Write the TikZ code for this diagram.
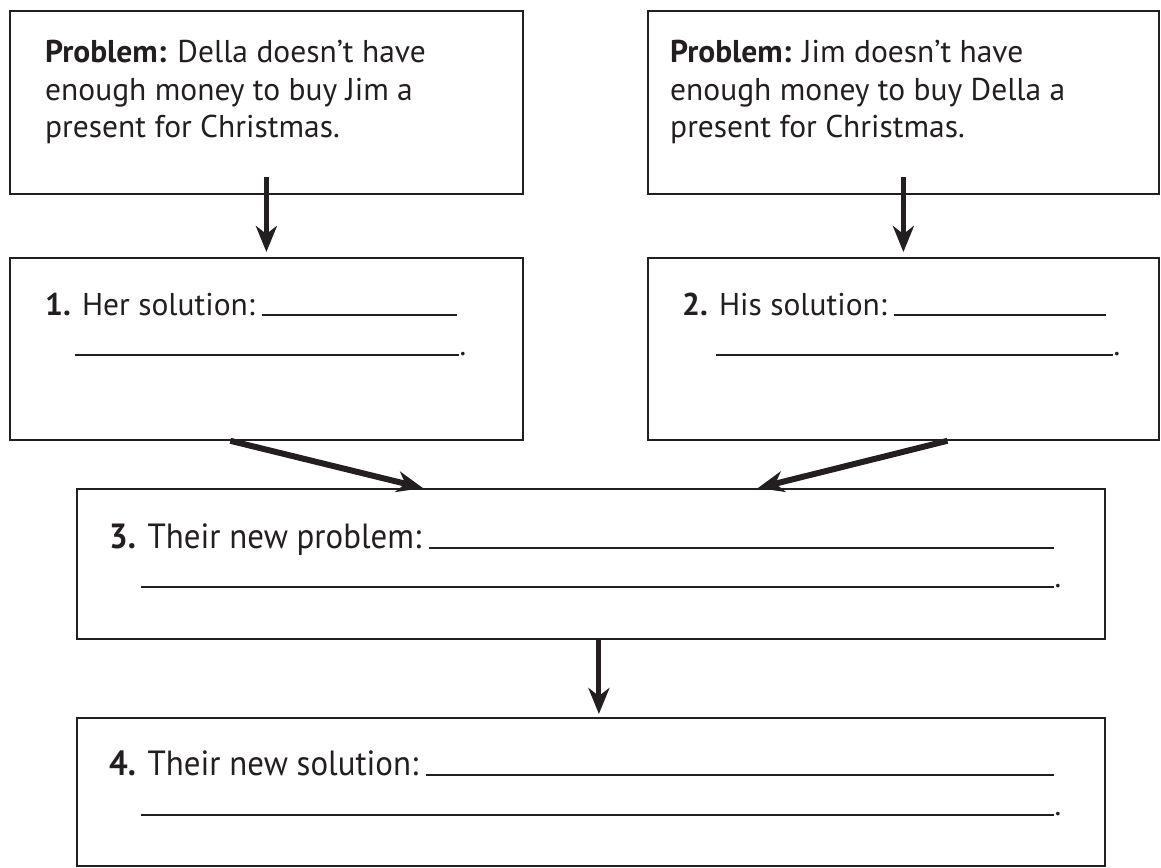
\documentclass[tikz,border=0pt]{standalone}
\usepackage{fontspec}
\setmainfont{PT Sans}
\newfontfamily\narrowfont[FakeStretch=0.94]{PT Sans}
\usetikzlibrary{arrows.meta}

\definecolor{ink}{HTML}{231F20}

\begin{document}
\begin{tikzpicture}[x=1pt,y=-1pt,
    box/.style={draw=ink,line width=1.8pt,anchor=north west,inner sep=0pt},
    txt/.style={anchor=base west,inner sep=0pt,text=ink,
      font=\fontsize{31.5}{37}\selectfont},
    ntxt/.style={txt,font=\fontsize{35}{40}\narrowfont},
    blank/.style={draw=ink,line width=1.2pt},
    dot/.style={anchor=base west,inner sep=0pt,text=ink,
      font=\fontsize{31}{37}\selectfont},
    arr/.style={draw=ink,line width=5pt,
      -{Stealth[length=26pt,width=21pt,inset=8pt]}},
    darr/.style={arr,line width=6pt}]

    \useasboundingbox (0,0) rectangle (1161,867);

    % the boxes

    \node[box,minimum width=513pt,minimum height=183pt] (dellaprob) at (9,10) {};
    \node[box,minimum width=511pt,minimum height=183pt] (jimprob) at (647,10) {};
    \node[box,minimum width=513pt,minimum height=182pt] (hersol) at (9,257) {};
    \node[box,minimum width=511pt,minimum height=182pt] (hissol) at (647,257) {};
    \node[box,minimum width=1028pt,minimum height=150pt] (newprob) at (76,488) {};
    \node[box,minimum width=1028pt,minimum height=148pt] (newsol) at (76,717) {};

    % the texts

    \node[txt] (dellaa) at (45,63) {\textbf{Problem:} Della doesn’t have};
    \node[txt] (dellab) at (45,100) {enough money to buy Jim a};
    \node[txt] (dellac) at (45,137) {present for Christmas.};

    \node[txt] (jima) at (670,63) {\textbf{Problem:} Jim doesn’t have};
    \node[txt] (jimb) at (670,100) {enough money to buy Della a};
    \node[txt] (jimc) at (670,137) {present for Christmas.};

    \node[txt] (herlbl) at (45,315) {\textbf{1.} Her solution:};
    \draw[blank] ([xshift=7pt]herlbl.base east) -- (457,315);
    \draw[blank] (75,355) -- (459,355) node[dot] (herdot) {.};

    \node[txt] (hislbl) at (682,315) {\textbf{2.} His solution:};
    \draw[blank] ([xshift=7pt]hislbl.base east) -- (1106,315);
    \draw[blank] (716,355) -- (1113,355) node[dot] (hisdot) {.};

    \node[ntxt] (problbl) at (109,548) {\textbf{3.} Their new problem:};
    \draw[blank] ([xshift=7pt]problbl.base east) -- (1054,548);
    \draw[blank] (141,587) -- (1054,587) node[dot] (probdot) {.};

    \node[ntxt] (sollbl) at (109,775) {\textbf{4.} Their new solution:};
    \draw[blank] ([xshift=7pt]sollbl.base east) -- (1054,775);
    \draw[blank] (141,815) -- (1054,815) node[dot] (soldot) {.};

    % the arrows

    \draw[arr,shorten <=-18pt,shorten >=5pt] (dellaprob.south) -- (hersol.north);
    \draw[arr,shorten <=-18pt,shorten >=5pt] (jimprob.south) -- (hissol.north);
    \draw[darr] ([xshift=-36pt]hersol.south) -- ([xshift=-168pt]newprob.north);
    \draw[darr] ([xshift=44pt]hissol.south) -- ([xshift=167pt]newprob.north);
    \draw[arr,shorten >=3pt] ([xshift=8pt]newprob.south) -- ([xshift=8pt]newsol.north);
\end{tikzpicture}
\end{document}
